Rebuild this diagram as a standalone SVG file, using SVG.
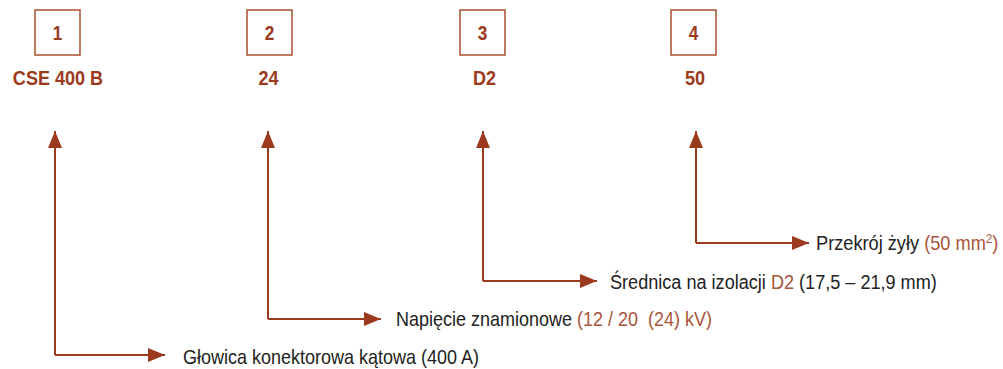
<svg xmlns="http://www.w3.org/2000/svg" width="1003" height="369" viewBox="0 0 1003 369">
  <style>
    .box { fill: #ffffff; stroke: #A9502F; stroke-width: 1.5; }
    .num { font-family: "Liberation Sans", Arial, sans-serif; font-weight: bold; font-size: 19.5px; fill: #9B3A1C; text-anchor: middle; }
    .code { font-family: "Liberation Sans", Arial, sans-serif; font-weight: bold; font-size: 21px; fill: #9B3A1C; text-anchor: middle; }
    .lbl { font-family: "Liberation Sans", Arial, sans-serif; font-size: 20px; fill: #222222; }
    .val { fill: #A8553A; }
    .conn { fill: none; stroke: #9B3A1C; stroke-width: 2; }
  </style>
  <defs>
    <marker id="ah" markerUnits="userSpaceOnUse" markerWidth="18" markerHeight="14" refX="17" refY="7" orient="auto">
      <path d="M0,0 L17,7 L0,14 z" fill="#9B3A1C"/>
    </marker>
  </defs>

  <g id="node1">
    <rect class="box" x="35" y="10" width="45" height="45"/>
    <text class="num" transform="translate(57.5,40) scale(0.88,1)">1</text>
    <text class="code" transform="translate(58,85) scale(0.86,1)">CSE 400 B</text>
  </g>
  <g id="node2">
    <rect class="box" x="247" y="10" width="45" height="45"/>
    <text class="num" transform="translate(269.5,40) scale(0.88,1)">2</text>
    <text class="code" transform="translate(268.5,85) scale(0.86,1)">24</text>
  </g>
  <g id="node3">
    <rect class="box" x="460" y="10" width="45" height="45"/>
    <text class="num" transform="translate(482.5,40) scale(0.88,1)">3</text>
    <text class="code" transform="translate(484.5,85) scale(0.86,1)">D2</text>
  </g>
  <g id="node4">
    <rect class="box" x="671" y="10" width="45" height="45"/>
    <text class="num" transform="translate(693.5,40) scale(0.88,1)">4</text>
    <text class="code" transform="translate(695,85) scale(0.86,1)">50</text>
  </g>

  <g id="connectors">
    <path class="conn" d="M55,355 L55,131" marker-end="url(#ah)"/>
    <path class="conn" d="M55,355 L165,355" marker-end="url(#ah)"/>
    <path class="conn" d="M268,319 L268,131" marker-end="url(#ah)"/>
    <path class="conn" d="M268,319 L381,319" marker-end="url(#ah)"/>
    <path class="conn" d="M483,281 L483,131" marker-end="url(#ah)"/>
    <path class="conn" d="M483,281 L597,281" marker-end="url(#ah)"/>
    <path class="conn" d="M696,243 L696,131" marker-end="url(#ah)"/>
    <path class="conn" d="M696,243 L809,243" marker-end="url(#ah)"/>
  </g>

  <g id="label1">
    <text class="lbl" transform="translate(183,364) scale(0.9,1)">Głowica konektorowa kątowa (400 A)</text>
  </g>
  <g id="label2">
    <text class="lbl" transform="translate(396,326) scale(0.9,1)" xml:space="preserve">Napięcie znamionowe <tspan class="val">(12 / 20  (24) kV)</tspan></text>
  </g>
  <g id="label3">
    <text class="lbl" transform="translate(610,289) scale(0.905,1)">Średnica na izolacji <tspan class="val">D2</tspan> (17,5 – 21,9 mm)</text>
  </g>
  <g id="label4">
    <text class="lbl" transform="translate(816,250) scale(0.91,1)">Przekrój żyły <tspan class="val">(50 mm</tspan><tspan class="val" font-size="13" baseline-shift="7">2</tspan><tspan class="val">)</tspan></text>
  </g>
</svg>
